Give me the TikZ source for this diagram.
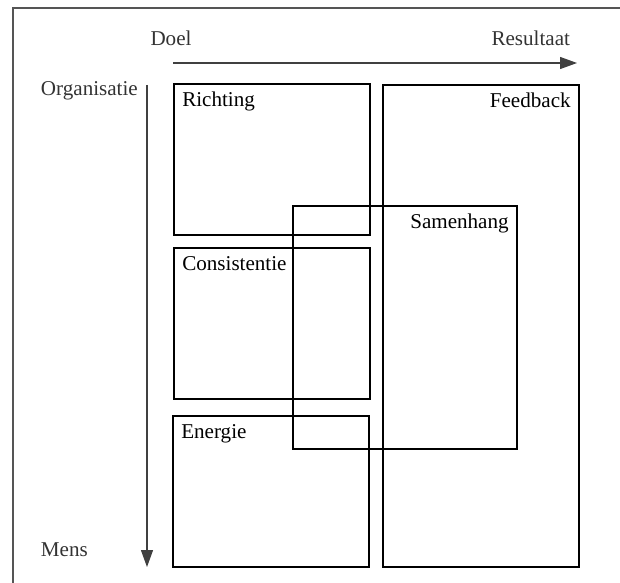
\documentclass[tikz,border=0pt]{standalone}
\usepackage{fontspec}
\setmainfont{Liberation Serif}
\usepackage{tikz}
\usetikzlibrary{
    arrows.meta,
    positioning
}
\definecolor{axisgray}{HTML}{404040}
\definecolor{framegray}{HTML}{555555}
\definecolor{labelgray}{HTML}{333333}

\begin{document}
\begin{tikzpicture}[x=0.025cm, y=-0.025cm,
    font=\fontsize{15}{18}\selectfont,
    area/.style={rectangle, draw=black, line width=1.4pt, anchor=north west, inner sep=0pt},
    arealabel/.style={inner sep=0pt, anchor=north west},
    axis/.style={draw=axisgray, line width=0.8pt, -{Triangle[length=12pt, width=8.5pt]}}]

    \useasboundingbox (0,0) rectangle (620,583);

    % Frame
    \draw[framegray, line width=1.1pt] (620,8) -- (13,8) -- (13,583);

    % Axes
    \coordinate (hstart) at (173,63);
    \coordinate (hend) at (577,63);
    \coordinate (vstart) at (147,85);
    \coordinate (vend) at (147,567);
    \draw[axis] (hstart) -- (hend);
    \draw[axis] (vstart) -- (vend);
    \node[anchor=base, text=labelgray] (doel) at (171,46) {Doel};
    \node[anchor=base east, text=labelgray] (resultaat) at (575,46) {Resultaat};
    \node[anchor=base west, text=labelgray] (organisatie) at (36,96) {Organisatie};
    \node[anchor=base west, text=labelgray] (mens) at (36,557) {Mens};

    % Areas
    \node[area, minimum width=196*0.025cm, minimum height=151*0.025cm] (richting) at (173,83) {};
    \node[area, minimum width=196*0.025cm, minimum height=151*0.025cm] (consistentie) at (173,247) {};
    \node[area, minimum width=196*0.025cm, minimum height=151*0.025cm] (energie) at (172,415) {};
    \node[area, minimum width=196*0.025cm, minimum height=482*0.025cm] (feedback) at (382,84) {};
    \node[area, minimum width=224*0.025cm, minimum height=243*0.025cm] (samenhang) at (292,205) {};

    % Labels
    \node[arealabel] at ([xshift=9*0.025cm, yshift=-9*0.025cm]richting.north west) {Richting};
    \node[arealabel] at ([xshift=9*0.025cm, yshift=-9*0.025cm]consistentie.north west) {Consistentie};
    \node[arealabel] at ([xshift=9*0.025cm, yshift=-9*0.025cm]energie.north west) {Energie};
    \node[arealabel, anchor=north east] at ([xshift=-9*0.025cm, yshift=-9*0.025cm]feedback.north east) {Feedback};
    \node[arealabel, anchor=north east] at ([xshift=-9*0.025cm, yshift=-9*0.025cm]samenhang.north east) {Samenhang};

\end{tikzpicture}
\end{document}
